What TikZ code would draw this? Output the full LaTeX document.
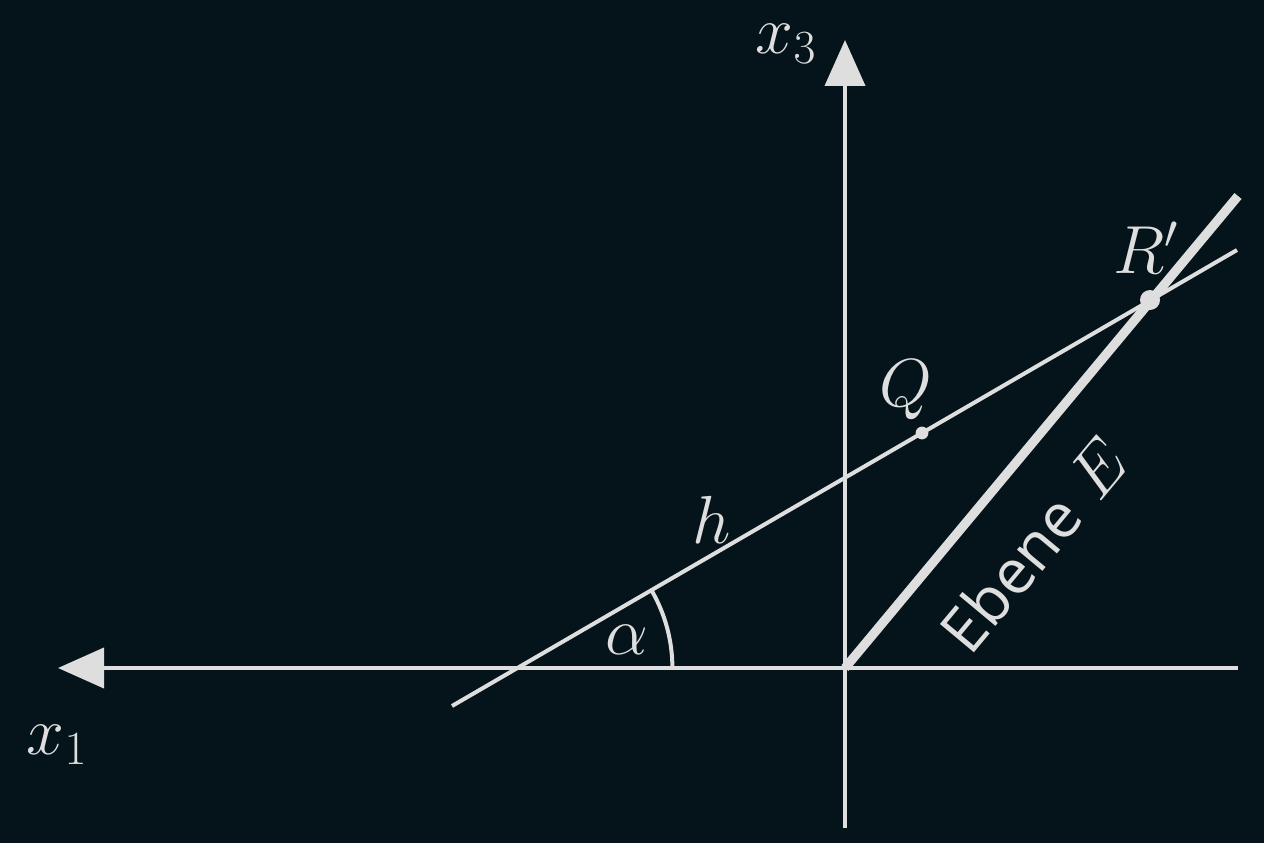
\documentclass[tikz,border=0pt]{standalone}
\usepackage{fix-cm}
\usepackage{fontspec}
\newfontfamily\ebfont{Open Sans}
\usetikzlibrary{arrows.meta}
\definecolor{bg}{RGB}{4,20,26}
\definecolor{fg}{RGB}{222,222,222}
\begin{document}
\begin{tikzpicture}[x=0.5pt,y=0.5pt,
  axis/.style={draw=fg,line width=2pt,-{Triangle[length=23pt,width=20pt]}},
  thin line/.style={draw=fg,line width=2pt},
  plane line/.style={draw=fg,line width=4.6pt},
  lbl/.style={text=fg,font=\fontsize{34}{40}\selectfont,inner sep=0pt},
  dot/.style={fill=fg}]
\fill[bg] (0,0) rectangle (1264,843);
\useasboundingbox (0,0) rectangle (1264,843);
% points
\coordinate (O) at (845,175);
\coordinate (x1r) at (1238,175);
\coordinate (x1t) at (58,175);
\coordinate (x3b) at (845,15);
\coordinate (x3t) at (845,803);
\coordinate (hs) at (452,137);
\coordinate (he) at (1237,593);
\coordinate (Q) at (922,410);
\coordinate (R) at (1150,543);
\coordinate (pe) at (1238,647);
\coordinate (A) at (517.4,175);
\coordinate (arcs) at (672.4,175);
% axes
\draw[axis] (x1r) -- (x1t);
\draw[axis] (x3b) -- (x3t);
% line h
\draw[thin line] (hs) -- (he);
% plane E
\draw[plane line] (O) -- (pe);
% angle
\draw[thin line] (arcs) arc[start angle=0,end angle=30.15,radius=77.5pt];
% points
\fill[dot] (Q) circle[radius=3.2pt];
\fill[dot] (R) circle[radius=5pt];
% labels
\node[lbl] (lx3) at (786,799) {$x_3$};
\node[lbl] (lx1) at (57,98) {$x_1$};
\node[lbl] (lh) at (712,323) {$h$};
\node[lbl] (lQ) at (906,453) {$Q$};
\node[lbl] (lR) at (1146,595) {$R'$};
\node[lbl] (la) at (627,203) {$\alpha$};
\node[lbl,rotate=50.2] (lE) at (1034,298) {{\ebfont\fontsize{31}{36}\selectfont Ebene} $E$};
\end{tikzpicture}
\end{document}
